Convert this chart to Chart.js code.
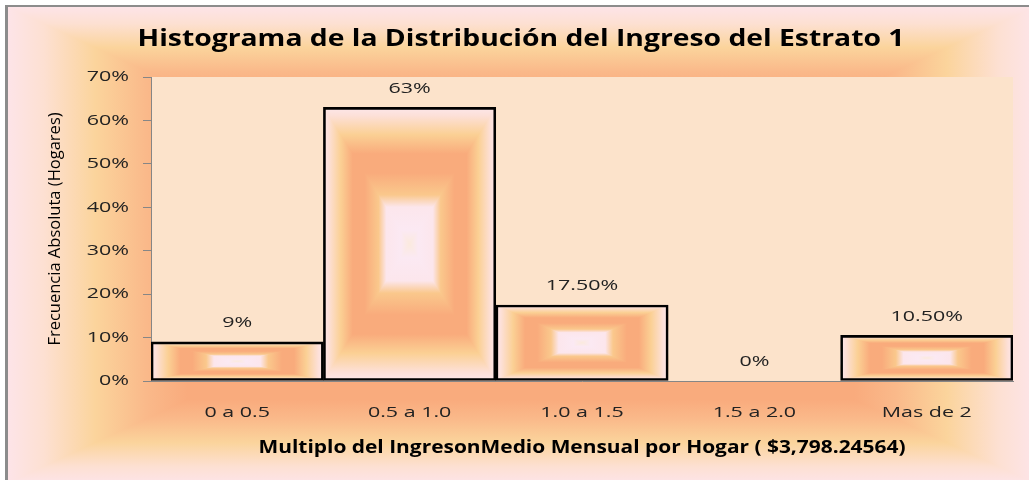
<!DOCTYPE html>
<html>
<head>
<meta charset="utf-8">
<script src="https://cdn.jsdelivr.net/npm/chart.js@4.4.1/dist/chart.umd.min.js"></script>
<style>
  html, body { margin: 0; padding: 0; background: #ffffff; width: 1029px; height: 480px; overflow: hidden; }
  #frame { position: absolute; left: 5px; top: 5px; border-left: 3px solid #8c8c8c; border-top: 2px solid #8c8c8c; width: 1026px; height: 476px; }
  canvas { display: block; }
</style>
</head>
<body>
<div id="frame"><canvas id="chart" width="1026" height="476"></canvas></div>
<script>
// Income brackets (multiples of the mean monthly household income)
const categories = ['0 a 0.5', '0.5 a 1.0', '1.0 a 1.5', '1.5 a 2.0', 'Mas de 2'];
// Share of households in each bracket, in percent
const shares = [9, 63, 17.5, 0, 10.5];
// Percent values shown on the vertical axis
const yTickValues = [0, 10, 20, 30, 40, 50, 60, 70];

const chartTitle = 'Histograma de la Distribución del Ingreso del Estrato 1';
const xTitle = 'Multiplo del IngresonMedio Mensual por Hogar ( $3,798.24564)';
const yTitle = 'Frecuencia Absoluta (Hogares)';

const FONT = '"Open Sans", "DejaVu Sans", sans-serif';
const TEXT = '#222222';
const AXIS = '#868686';
// Horizontal widening applied to upright text (wide, Calibri-like lettering)
const TEXT_STRETCH = 1.43;
const BOLD_STRETCH = 1.23;

// Colour ramp from the outer edge (0) to the centre (1) of a rectangle
const barStops = [
  [0.00, '#fde7ea'],
  [0.06, '#fde0d8'],
  [0.20, '#fbd094'],
  [0.34, '#f9ab7c'],
  [0.48, '#f9ab7c'],
  [0.64, '#fac88c'],
  [0.73, '#fce6ec'],
  [0.90, '#fbe9f3'],
  [1.00, '#fbeade']
];
const frameStops = [
  [0.00, '#fde4e8'],
  [0.07, '#fde0d2'],
  [0.17, '#fbd49c'],
  [0.27, '#fab98a'],
  [0.35, '#f9ab7d'],
  [1.00, '#f9ab7d']
];

// Fills a rectangle with a "from centre" rectangular gradient
function paintRectGradient(ctx, x0, y0, x1, y1, stops) {
  const w = x1 - x0, h = y1 - y0;
  if (w <= 1 || h <= 1) return;
  const cx = x0 + w / 2, cy = y0 + h / 2;
  const mirror = (g) => {
    stops.forEach(([t, c]) => { g.addColorStop(t / 2, c); g.addColorStop(1 - t / 2, c); });
    return g;
  };
  ctx.save();
  ctx.fillStyle = mirror(ctx.createLinearGradient(0, y0, 0, y1));
  ctx.fillRect(x0, y0, w, h);
  ctx.beginPath();
  ctx.moveTo(x0, y0); ctx.lineTo(cx, cy); ctx.lineTo(x0, y1); ctx.closePath();
  ctx.moveTo(x1, y0); ctx.lineTo(cx, cy); ctx.lineTo(x1, y1); ctx.closePath();
  ctx.clip();
  ctx.fillStyle = mirror(ctx.createLinearGradient(x0, 0, x1, 0));
  ctx.fillRect(x0, y0, w, h);
  ctx.restore();
}

// Widen upright text horizontally around its anchor point
function widenText(ctx) {
  const fill = ctx.fillText;
  ctx.fillText = function (text, x, y, maxWidth) {
    const m = this.getTransform();
    const args = maxWidth === undefined ? [text, x, y] : [text, x, y, maxWidth];
    if (Math.abs(m.b) > 1e-6 || Math.abs(m.c) > 1e-6) {
      return fill.apply(this, args);
    }
    const sx = /bold/.test(this.font) ? BOLD_STRETCH : TEXT_STRETCH;
    const px = m.a * x + m.e;
    this.save();
    this.setTransform(m.a * sx, m.b, m.c * sx, m.d, m.e * sx + px * (1 - sx), m.f);
    fill.apply(this, args);
    this.restore();
  };
}

const backdrop = {
  id: 'backdrop',
  beforeDraw(chart) {
    const { ctx, width, height, chartArea: a } = chart;
    paintRectGradient(ctx, 0, 0, width, height, frameStops);
    ctx.save();
    ctx.fillStyle = '#fce3cb';
    ctx.fillRect(a.left, a.top, a.right - a.left, a.bottom - a.top);
    ctx.restore();
  }
};

const barFill = {
  id: 'barFill',
  beforeDatasetsDraw(chart) {
    const { ctx } = chart;
    chart.getDatasetMeta(0).data.forEach((bar) => {
      const x0 = bar.x - bar.width / 2, x1 = bar.x + bar.width / 2;
      const y0 = Math.min(bar.y, bar.base), y1 = Math.max(bar.y, bar.base);
      paintRectGradient(ctx, x0, y0, x1, y1, barStops);
    });
  }
};

const formatShare = (v) => (Number.isInteger(v) ? v : v.toFixed(2)) + '%';

const valueLabels = {
  id: 'valueLabels',
  afterDatasetsDraw(chart) {
    const { ctx } = chart;
    const values = chart.data.datasets[0].data;
    ctx.save();
    ctx.font = '15px ' + FONT;
    ctx.fillStyle = TEXT;
    ctx.textAlign = 'center';
    ctx.textBaseline = 'middle';
    chart.getDatasetMeta(0).data.forEach((bar, i) => {
      ctx.fillText(formatShare(values[i]), bar.x, bar.y - 19);
    });
    ctx.restore();
  }
};

const canvas = document.getElementById('chart');
widenText(canvas.getContext('2d'));

new Chart(canvas, {
  type: 'bar',
  data: {
    labels: categories,
    datasets: [{
      data: shares,
      backgroundColor: 'rgba(0,0,0,0)',
      borderColor: '#000000',
      borderWidth: 2,
      borderSkipped: false,
      barPercentage: 1,
      categoryPercentage: 1
    }]
  },
  options: {
    responsive: false,
    animation: false,
    devicePixelRatio: 1,
    layout: { padding: { left: 21, right: 21, top: 0, bottom: 0 } },
    plugins: {
      legend: { display: false },
      tooltip: { enabled: false },
      title: {
        display: true,
        text: chartTitle,
        color: '#000000',
        font: { family: FONT, size: 23, weight: 'bold' },
        padding: { top: 19, bottom: 23.4 }
      }
    },
    scales: {
      x: {
        grid: { display: false, drawTicks: false, tickLength: 0 },
        border: { display: true, color: AXIS, width: 1 },
        ticks: { color: TEXT, font: { family: FONT, size: 15 }, padding: 23, maxRotation: 0, autoSkip: false },
        title: {
          display: true,
          text: xTitle,
          color: '#000000',
          font: { family: FONT, size: 17, weight: 'bold' },
          padding: { top: 0, bottom: 25 }
        },
        afterFit(scale) { scale.height = 102; }
      },
      y: {
        min: 0,
        max: 70,
        afterBuildTicks(scale) { scale.ticks = yTickValues.map((v) => ({ value: v })); },
        ticks: { color: TEXT, font: { family: FONT, size: 15 }, padding: 14, callback: (v) => v + '%' },
        grid: { display: true, drawOnChartArea: false, drawTicks: true, tickLength: 8, color: AXIS },
        border: { display: true, color: AXIS, width: 1 },
        title: {
          display: true,
          text: yTitle,
          color: '#000000',
          font: { family: FONT, size: 16.5 },
          padding: { top: 16, bottom: 0 }
        },
        afterFit(scale) { scale.width = 122; }
      }
    }
  },
  plugins: [backdrop, barFill, valueLabels]
});
</script>
</body>
</html>
